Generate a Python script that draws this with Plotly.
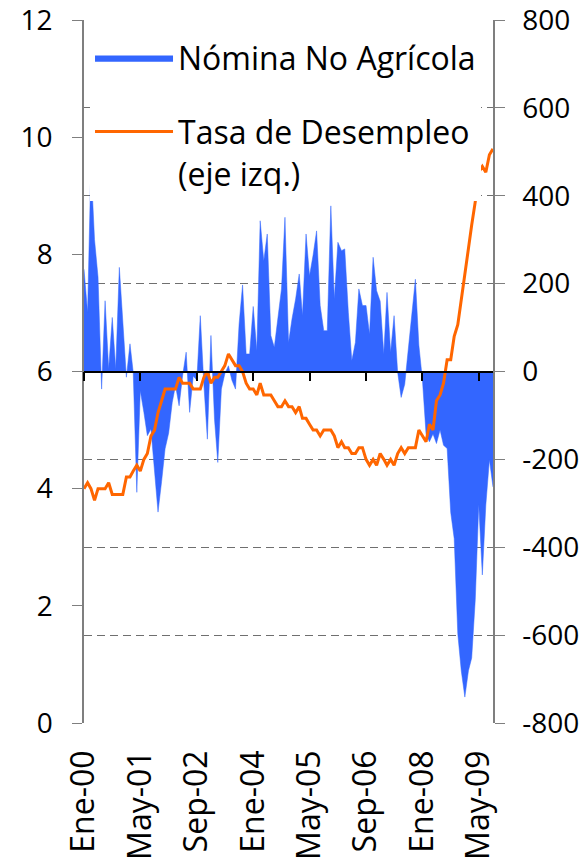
import pandas as pd
import plotly.graph_objects as go

# Monthly observations, Jan-2000 .. Sep-2009
months = pd.date_range("2000-01-01", periods=117, freq="MS")

# Nómina No Agrícola: monthly change (thousands), right axis
nomina = [
    233, 135, 472, 300, 215, -40, 161, 6, 123, 6, 237, 110,            # 2000
    -13, 63, -2, -275, -44, -93, -146, -131, -237, -320, -250, -176,   # 2001
    -140, -70, -32, -78, -10, 44, -93, -10, -20, 127, -30, -154,       # 2002
    82, -110, -207, -40, -5, 13, -20, -40, 108, 197, 40, 40,           # 2003
    148, 47, 343, 252, 313, 82, 55, 120, 188, 351, 66, 120,            # 2004
    165, 222, 127, 313, 218, 265, 320, 150, 93, 93, 377, 165,          # 2005
    294, 275, 279, 135, 25, 66, 188, 150, 150, 85, 260, 184,           # 2006
    160, 40, 180, 44, 127, -2, -59, -29, 50, 135, 210, 60,             # 2007
    -20, -142, -160, -142, -164, -133, -168, -175, -321, -380, -597, -681,  # 2008
    -741, -681, -652, -519, -303, -463, -304, -201, -263,              # 2009
]

# Tasa de Desempleo (%), left axis
desempleo = [
    4.0, 4.1, 4.0, 3.8, 4.0, 4.0, 4.0, 4.1, 3.9, 3.9, 3.9, 3.9,
    4.2, 4.2, 4.3, 4.4, 4.3, 4.5, 4.6, 4.9, 5.0, 5.3, 5.5, 5.7,
    5.7, 5.7, 5.7, 5.9, 5.8, 5.8, 5.8, 5.7, 5.7, 5.7, 5.9, 6.0,
    5.8, 5.9, 5.9, 6.0, 6.1, 6.3, 6.2, 6.1, 6.1, 6.0, 5.8, 5.7,
    5.7, 5.6, 5.8, 5.6, 5.6, 5.6, 5.5, 5.4, 5.4, 5.5, 5.4, 5.4,
    5.3, 5.4, 5.2, 5.2, 5.1, 5.0, 5.0, 4.9, 5.0, 5.0, 5.0, 4.9,
    4.7, 4.8, 4.7, 4.7, 4.6, 4.6, 4.7, 4.7, 4.5, 4.4, 4.5, 4.4,
    4.6, 4.5, 4.4, 4.5, 4.4, 4.6, 4.7, 4.6, 4.7, 4.7, 4.7, 5.0,
    4.9, 4.8, 5.1, 5.0, 5.5, 5.6, 5.8, 6.2, 6.2, 6.6, 6.8, 7.2,
    7.6, 8.1, 8.5, 8.9, 9.4, 9.5, 9.4, 9.7, 9.8,
]

tick_dates = ["2000-01-01", "2001-05-01", "2002-09-01", "2004-01-01",
              "2005-05-01", "2006-09-01", "2008-01-01", "2009-05-01"]
tick_labels = ["Ene-00", "May-01", "Sep-02", "Ene-04",
               "May-05", "Sep-06", "Ene-08", "May-09"]

left_ticks = [0, 2, 4, 6, 8, 10, 12]
left_labels = ["0", "2", "4", "6", "8", "10", "12"]
right_ticks = [-800, -600, -400, -200, 0, 200, 400, 600, 800]
right_labels = ["-800", "-600", "-400", "-200", "0", "200", "400", "600", "800"]

FONT = "'Open Sans', Lato, sans-serif"
BLUE = "#3366FF"
ORANGE = "#FF6600"

fig = go.Figure()
# area on the base (right-hand) axis so the line is drawn on top of it
fig.add_trace(go.Scatter(
    x=months, y=nomina, name="Nómina No Agrícola", yaxis="y",
    mode="lines", fill="tozeroy", fillcolor=BLUE,
    line=dict(color=BLUE, width=0.5), legendgroup="a",
))
fig.add_trace(go.Scatter(
    x=months, y=desempleo, name="Tasa de Desempleo<br>(eje izq.)", yaxis="y2",
    mode="lines", line=dict(color=ORANGE, width=3), legendgroup="b",
))
# helper trace so the zero-line category axis is drawn
fig.add_trace(go.Scatter(
    x=[months[0]], y=[None], xaxis="x2", yaxis="y", showlegend=False,
    hoverinfo="skip", mode="lines",
))

fig.update_layout(
    width=587, height=859,
    margin=dict(l=76, r=102, t=12, b=144, autoexpand=False),
    paper_bgcolor="white", plot_bgcolor="white",
    font=dict(family=FONT, size=28, color="black"),
    showlegend=True,
    legend=dict(
        x=0.0147, y=0.985, xanchor="left", yanchor="top",
        bgcolor="white", borderwidth=0,
        font=dict(family=FONT, size=32, color="black"),
        itemwidth=78, valign="top", tracegroupgap=29,
    ),
    xaxis=dict(
        range=[months[0], months[-1]], automargin=False,
        tickvals=tick_dates, ticktext=tick_labels,
        tickangle=-90, showgrid=False, showline=False, ticks="",
        zeroline=False, ticklabelstandoff=20, ticklabeloverflow="allow",
        tickfont=dict(family=FONT, size=32, color="black"),
    ),
    xaxis2=dict(
        overlaying="x", anchor="free", position=0.5, automargin=False,
        range=[months[0], months[-1]],
        tickvals=tick_dates, showticklabels=False,
        ticks="outside", ticklen=9, tickcolor="black", tickwidth=1.5,
        showline=True, linecolor="black", linewidth=1.5,
        showgrid=False, zeroline=False, layer="above traces",
    ),
    yaxis=dict(
        range=[-800, 800], tickvals=right_ticks, ticktext=right_labels,
        side="right", automargin=False,
        showgrid=True, gridcolor="#6f6f6f", gridwidth=1, griddash="8px,5px",
        zeroline=True, zerolinecolor="black", zerolinewidth=1.5,
        showline=True, linecolor="#7f7f7f", linewidth=1.5,
        ticks="outside", ticklen=10, tickcolor="#7f7f7f",
        ticklabelstandoff=12, ticklabeloverflow="allow",
        tickfont=dict(family=FONT, size=28, color="black"),
    ),
    yaxis2=dict(
        range=[0, 12], tickvals=left_ticks, ticktext=left_labels,
        overlaying="y", side="left", anchor="x",
        showgrid=False, zeroline=False, automargin=False,
        showline=True, linecolor="#7f7f7f", linewidth=1.5,
        ticks="outside", ticklen=10, tickcolor="#7f7f7f",
        ticklabelstandoff=14, ticklabeloverflow="allow",
        tickfont=dict(family=FONT, size=28, color="black"),
    ),
)

fig.write_html("out.html")
